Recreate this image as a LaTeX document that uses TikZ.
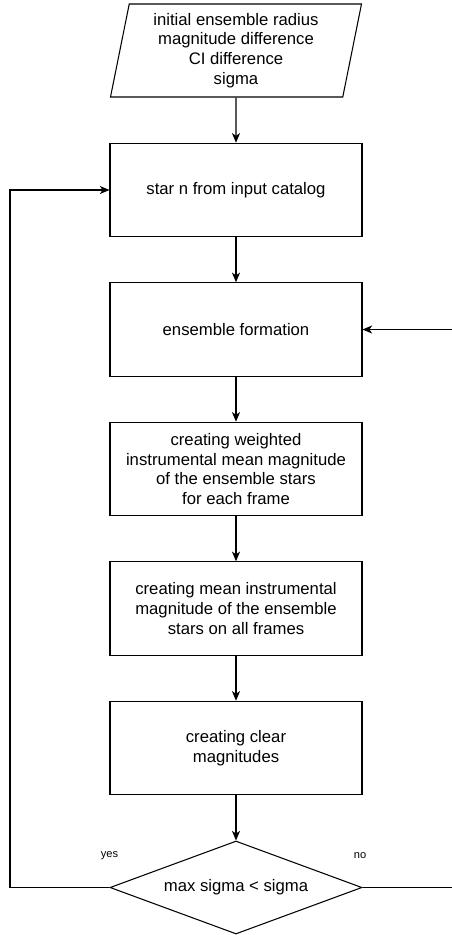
\documentclass[tikz,border=0pt]{standalone}
\usepackage{fontspec}
\setmainfont{Liberation Sans}
\usetikzlibrary{shapes.geometric, arrows.meta}

\tikzset{
    stepbox/.style={draw, line width=0.6pt, minimum width=5.04cm, minimum height=1.87cm,
        align=center, inner sep=0pt},
    flowline/.style={line width=0.6pt, -{Stealth[length=5.5pt, width=4.6pt, inset=1.6pt]}},
    smalllabel/.style={font=\fontsize{6.3}{7.5}\selectfont}
}

\begin{document}
\begin{tikzpicture}[font=\fontsize{9.5}{11.3}\selectfont]
        \useasboundingbox (0,0) rectangle (9.04,-18.7);

        \node [draw, line width=0.6pt, trapezium, trapezium left angle=76, trapezium right angle=104,
               trapezium stretches body, minimum width=5.02cm, minimum height=1.86cm,
               inner sep=0pt, align=center] (input) at (4.72,-1.01)
              {initial ensemble radius\\magnitude difference\\CI difference\\sigma};

        \node [stepbox] (star) at (4.72,-3.80) {star n from input catalog};
        \node [stepbox] (ensemble) at (4.72,-6.59) {ensemble formation};
        \node [stepbox] (weighted) at (4.72,-9.38)
              {creating weighted\\instrumental mean magnitude\\of the ensemble stars\\for each frame};
        \node [stepbox] (meanmag) at (4.72,-12.17)
              {creating mean instrumental\\magnitude of the ensemble\\stars on all frames};
        \node [stepbox] (clear) at (4.72,-14.96) {creating clear\\magnitudes};
        \node [draw, line width=0.6pt, diamond, aspect=2.71, minimum width=5.04cm, minimum height=1.86cm,
               inner sep=0pt] (check) at (4.72,-17.75) {max sigma < sigma};

        \draw [flowline] (input) -- (star);
        \draw [flowline] (star) -- (ensemble);
        \draw [flowline] (ensemble) -- (weighted);
        \draw [flowline] (weighted) -- (meanmag);
        \draw [flowline] (meanmag) -- (clear);
        \draw [flowline] (clear) -- (check);

        % yes: back to the next star
        \coordinate (yesturn) at (0.2,-17.75);
        \draw [flowline] (check.west) -- (yesturn) |- (star.west);
        \node [smalllabel] (yes) at (2.19,-17.12) {yes};

        % no: back to ensemble formation (runs past the right edge)
        \coordinate (noturn) at (9.1,-17.75);
        \draw [flowline] (check.east) -- (noturn) |- (ensemble.east);
        \node [smalllabel] (no) at (7.2,-17.12) {no};

    \end{tikzpicture}
\end{document}
